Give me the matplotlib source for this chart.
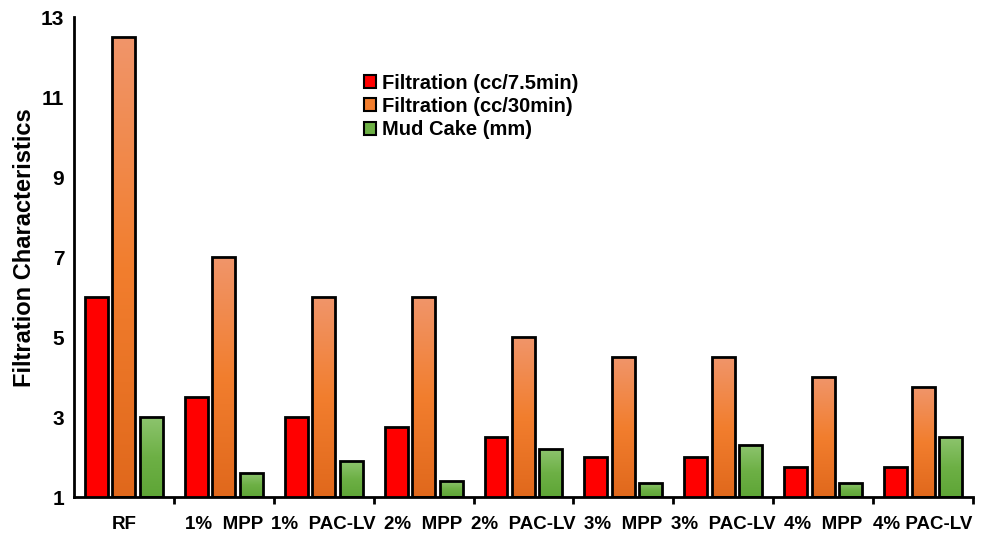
import numpy as np
import matplotlib.pyplot as plt
from matplotlib.colors import LinearSegmentedColormap
from matplotlib.patches import Patch

plt.rcParams['font.family'] = ['Liberation Sans', 'DejaVu Sans']
plt.rcParams['font.weight'] = 'bold'

categories = ['RF', '1%  MPP', '1%  PAC-LV', '2%  MPP', '2%  PAC-LV',
              '3%  MPP', '3%  PAC-LV', '4%  MPP', '4% PAC-LV']
filt_7_5 = [6, 3.5, 3, 2.75, 2.5, 2, 2, 1.75, 1.75]
filt_30 = [12.5, 7, 6, 6, 5, 4.5, 4.5, 4, 3.75]
mud_cake = [3, 1.6, 1.9, 1.4, 2.2, 1.35, 2.3, 1.35, 2.5]
series_names = ['Filtration (cc/7.5min)', 'Filtration (cc/30min)', 'Mud Cake (mm)']
yticks = [1, 3, 5, 7, 9, 11, 13]

orange_cmap = LinearSegmentedColormap.from_list('org', ['#E0681C', '#F27E2E', '#F0956A'])
green_cmap = LinearSegmentedColormap.from_list('grn', ['#5EA536', '#6DB045', '#8DC46E'])

fig = plt.figure(figsize=(9.89, 5.33), dpi=100)
ax = fig.add_axes([0.0748, 0.0675, 0.909, 0.9005])

x = np.arange(len(categories))
step = 0.275
width = 0.23
base = 1

ax.bar(x - step, np.array(filt_7_5) - base, width, bottom=base, color='#FF0000',
       edgecolor='black', linewidth=2, zorder=3)
bars_o = ax.bar(x, np.array(filt_30) - base, width, bottom=base, color='none',
                edgecolor='black', linewidth=2, zorder=3)
bars_g = ax.bar(x + step, np.array(mud_cake) - base, width, bottom=base, color='none',
                edgecolor='black', linewidth=2, zorder=3)

# gradient fill for the orange and green bars
grad = np.linspace(0, 1, 256).reshape(-1, 1)
for bars, cmap in [(bars_o, orange_cmap), (bars_g, green_cmap)]:
    for b in bars:
        x0, y0 = b.get_x(), b.get_y()
        ax.imshow(grad, extent=[x0, x0 + b.get_width(), y0, y0 + b.get_height()],
                  origin='lower', aspect='auto', cmap=cmap, zorder=2)

ax.set_xlim(-0.5, len(categories) - 0.5)
ax.set_ylim(1, 13)
ax.set_yticks(yticks)
ax.set_xticks(x)
ax.set_xticklabels(categories, fontsize=13.5, fontweight='bold')
ax.set_xticks(np.arange(0.5, len(categories), 1), minor=True)
ax.tick_params(axis='x', which='major', length=0, pad=14)
ax.tick_params(axis='x', which='minor', length=5, width=2, direction='out')
ax.tick_params(axis='y', length=0, labelsize=15, pad=7)
for lbl in ax.get_yticklabels():
    lbl.set_fontweight('bold')

ax.spines['top'].set_visible(False)
ax.spines['right'].set_visible(False)
ax.spines['left'].set_linewidth(2)
ax.spines['bottom'].set_linewidth(2)

ax.set_ylabel('Filtration Characteristics', fontsize=17, fontweight='bold')
ax.yaxis.set_label_coords(-0.042, 0.52)

handles = [Patch(facecolor=c, edgecolor='black', linewidth=1.5)
           for c in ['#FF0000', '#F27E2E', '#6DB045']]
fig.legend(handles, series_names, loc='upper left', bbox_to_anchor=(0.368, 0.862),
           frameon=False, prop={'size': 14.5, 'weight': 'bold'},
           borderaxespad=0, borderpad=0,
           handlelength=0.6, handleheight=0.6, handletextpad=0.3, labelspacing=0.22)

fig.savefig('out.png', dpi=100)
